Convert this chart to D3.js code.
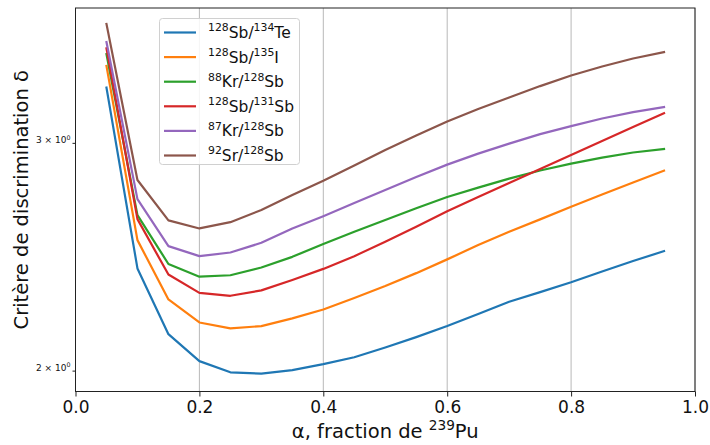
<!DOCTYPE html>
<html><head><meta charset="utf-8">
<script src="https://cdn.jsdelivr.net/npm/d3@7"></script>
<style>body{margin:0;background:#fff} text{font-family:"DejaVu Sans",sans-serif}</style>
</head><body><svg id="c" width="710" height="445"></svg>
<script>
// ---- data ----
const alpha = [0.05,0.10,0.15,0.20,0.25,0.30,0.35,0.40,0.45,0.50,0.55,0.60,0.65,0.70,0.75,0.80,0.85,0.90,0.95];
const sb128Te134 = [3.31,2.399,2.134,2.034,1.994,1.989,2.002,2.023,2.048,2.084,2.123,2.165,2.212,2.261,2.300,2.341,2.386,2.431,2.474];
const sb128I135  = [3.44,2.523,2.270,2.179,2.156,2.165,2.195,2.230,2.276,2.325,2.379,2.438,2.501,2.561,2.618,2.677,2.736,2.796,2.855];
const kr88Sb128  = [3.514,2.638,2.418,2.364,2.370,2.403,2.449,2.506,2.561,2.615,2.670,2.724,2.770,2.815,2.856,2.891,2.922,2.949,2.967];
const sb128Sb131 = [3.55,2.619,2.373,2.297,2.285,2.307,2.350,2.397,2.452,2.516,2.584,2.656,2.724,2.793,2.863,2.936,3.010,3.086,3.162];
const kr87Sb128  = [3.59,2.714,2.496,2.452,2.468,2.511,2.576,2.633,2.695,2.758,2.823,2.886,2.943,2.996,3.047,3.091,3.133,3.169,3.197];
const sr92Sb128  = [3.707,2.808,2.613,2.576,2.605,2.662,2.734,2.804,2.881,2.962,3.039,3.116,3.186,3.252,3.319,3.382,3.437,3.486,3.526];
const seriesLabels = ["{128}Sb/{134}Te","{128}Sb/{135}I","{88}Kr/{128}Sb","{128}Sb/{131}Sb","{87}Kr/{128}Sb","{92}Sr/{128}Sb"];
const seriesValues = [sb128Te134, sb128I135, kr88Sb128, sb128Sb131, kr87Sb128, sr92Sb128];
const colors = ["#1f77b4","#ff7f0e","#2ca02c","#d62728","#9467bd","#8c564b"];
const xTicks = [0,0.2,0.4,0.6,0.8,1.0];
const yTicks = [2,3];
const yTickLabels = ["2 × 10{0}","3 × 10{0}"];
const xLabel = "α, fraction de {239}Pu";
const yLabel = "Critère de discrimination δ";

// ---- layout ----
const L=75.5, R=695, T=8, B=391.5;
const svg = d3.select("#c");
const x = d3.scaleLinear().domain([0,1]).range([L,R]);
const y = d3.scaleLog().domain([1.927,3.814]).range([B,T]);

function rich(sel, str, size){
  const parts = str.split(/(\{[^}]*\})/).filter(s=>s.length);
  let shifted = false;
  parts.forEach(p=>{
    if(p[0]==="{"){
      sel.append("tspan").attr("font-size",size*0.7).attr("dy",shifted?0:-size*0.42).text(p.slice(1,-1));
      shifted = true;
    } else {
      sel.append("tspan").attr("font-size",size).attr("dy",shifted?size*0.42:0).text(p);
      shifted = false;
    }
  });
}

// grid
svg.append("g").selectAll("line").data(xTicks).join("line")
  .attr("x1",d=>x(d)).attr("x2",d=>x(d)).attr("y1",T).attr("y2",B)
  .attr("stroke","#b0b0b0").attr("stroke-width",0.9);

// lines
const line = d3.line().x((d,i)=>x(alpha[i])).y(d=>y(d));
svg.append("g").selectAll("path").data(seriesValues).join("path")
  .attr("d",d=>line(d)).attr("fill","none")
  .attr("stroke",(d,i)=>colors[i]).attr("stroke-width",2.2)
  .attr("stroke-linejoin","round").attr("stroke-linecap","square");

// axes
const xa = svg.append("g").attr("transform",`translate(0,${B})`)
  .call(d3.axisBottom(x).tickValues(xTicks).tickFormat(d3.format(".1f")).tickSize(5).tickPadding(4));
xa.select(".domain").remove();
xa.selectAll("line").attr("stroke","#222");
xa.selectAll("text").attr("font-size",17).attr("fill","#111").attr("font-family","DejaVu Sans");

const ya = svg.append("g").attr("transform",`translate(${L},0)`)
  .call(d3.axisLeft(y).tickValues(yTicks).tickFormat("").tickSize(3).tickPadding(3));
ya.select(".domain").remove();
ya.selectAll("line").attr("stroke","#222");
ya.selectAll(".tick").each(function(d){
  const t = d3.select(this).select("text").text("").attr("fill","#111")
    .attr("x",-5).attr("dy","0.32em").attr("text-anchor","end").attr("font-family","DejaVu Sans");
  rich(t, yTickLabels[yTicks.indexOf(d)], 9);
});

// frame
svg.append("rect").attr("x",L).attr("y",T).attr("width",R-L).attr("height",B-T)
  .attr("fill","none").attr("stroke","#222").attr("stroke-width",1);

// axis labels
const xl = svg.append("text").attr("x",(L+R)/2).attr("y",438).attr("text-anchor","middle").attr("fill","#111");
rich(xl, xLabel, 19.5);
svg.append("text").attr("transform",`translate(28,${(T+B)/2}) rotate(-90)`)
  .attr("text-anchor","middle").attr("font-size",19.5).attr("fill","#111").text(yLabel);

// legend
const lg = svg.append("g");
lg.append("rect").attr("x",159.5).attr("y",18.5).attr("width",140).attr("height",146)
  .attr("rx",3).attr("fill","#fff").attr("fill-opacity",0.85).attr("stroke","#d0d0d0");
seriesLabels.forEach((s,i)=>{
  const yy = 32.5 + i*24.6;
  lg.append("line").attr("x1",164).attr("x2",196).attr("y1",yy).attr("y2",yy)
    .attr("stroke",colors[i]).attr("stroke-width",2.2);
  const t = lg.append("text").attr("x",208).attr("y",yy+5.5).attr("fill","#111");
  rich(t, s, 15.5);
});
</script></body></html>
